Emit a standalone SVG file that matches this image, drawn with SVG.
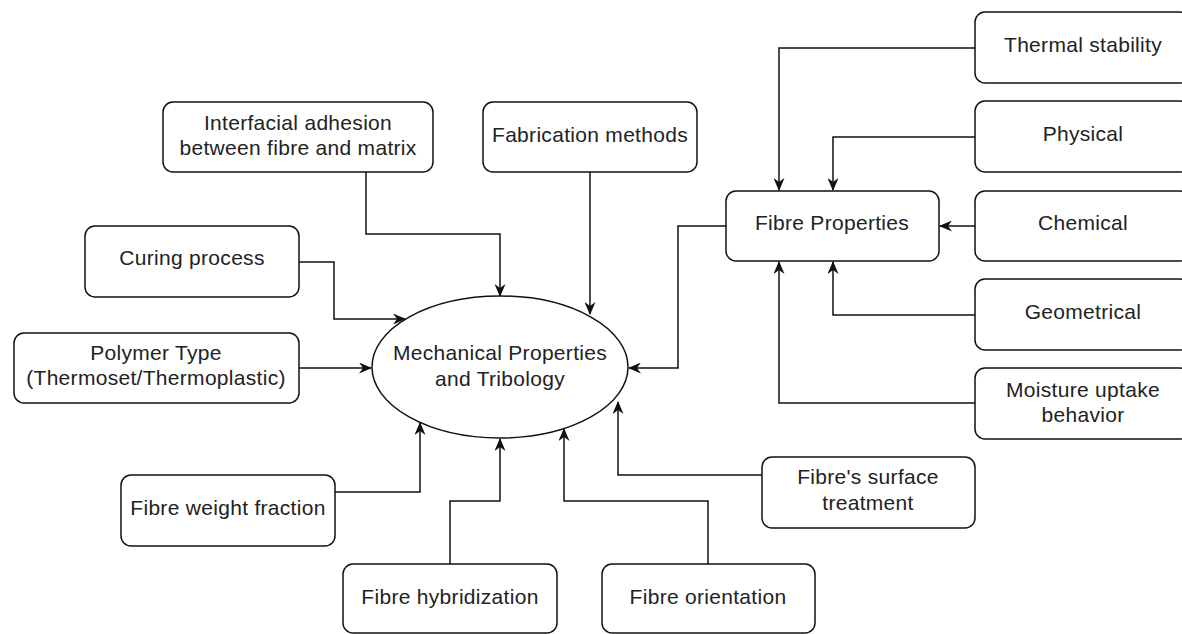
<svg xmlns="http://www.w3.org/2000/svg" width="1182" height="634" viewBox="0 0 1182 634">
<style>
.box{fill:#fff;stroke:#111;stroke-width:1.5}
.t{font-family:"Liberation Sans",Arial,sans-serif;font-size:21px;fill:#222;text-anchor:middle;letter-spacing:0.3px}
.c{fill:none;stroke:#111;stroke-width:1.5}
</style>
<defs>
<marker id="a" viewBox="0 0 13 11" refX="12" refY="5.5" markerWidth="13" markerHeight="11" markerUnits="userSpaceOnUse" orient="auto">
<path d="M0,0 L13,5.5 L0,11 L4,5.5 z" fill="#111"/>
</marker>
</defs>
<rect width="1182" height="634" fill="#fff"/>
<g id="connectors">
<path class="c" d="M366,172 V234 H500 V296" marker-end="url(#a)"/>
<path class="c" d="M590,172 V314" marker-end="url(#a)"/>
<path class="c" d="M299,262 H334 V319 H405" marker-end="url(#a)"/>
<path class="c" d="M299,368 H371" marker-end="url(#a)"/>
<path class="c" d="M726,226 H678 V368 H629" marker-end="url(#a)"/>
<path class="c" d="M335,492 H420 V423" marker-end="url(#a)"/>
<path class="c" d="M450,564 V501 H500 V439" marker-end="url(#a)"/>
<path class="c" d="M708,564 V501 H564 V429" marker-end="url(#a)"/>
<path class="c" d="M762,475 H618 V402" marker-end="url(#a)"/>
<path class="c" d="M975,48 H779 V190" marker-end="url(#a)"/>
<path class="c" d="M975,137 H833 V190" marker-end="url(#a)"/>
<path class="c" d="M975,226 H940" marker-end="url(#a)"/>
<path class="c" d="M975,315 H833 V262" marker-end="url(#a)"/>
<path class="c" d="M975,403 H779 V262" marker-end="url(#a)"/>
</g>
<g id="center">
<ellipse class="box" cx="500" cy="367" rx="128" ry="71"/>
<text class="t" x="500" y="360">Mechanical Properties</text>
<text class="t" x="500" y="386">and Tribology</text>
</g>
<g id="interfacial">
<rect class="box" x="163" y="102" width="270" height="70" rx="10"/>
<text class="t" x="298" y="130">Interfacial adhesion</text>
<text class="t" x="298" y="155">between fibre and matrix</text>
</g>
<g id="fabrication">
<rect class="box" x="483" y="102" width="214" height="70" rx="10"/>
<text class="t" x="590" y="142">Fabrication methods</text>
</g>
<g id="curing">
<rect class="box" x="85" y="226" width="214" height="71" rx="10"/>
<text class="t" x="192" y="265">Curing process</text>
</g>
<g id="polymer">
<rect class="box" x="14" y="333" width="285" height="70" rx="10"/>
<text class="t" x="156" y="360">Polymer Type</text>
<text class="t" x="156" y="385">(Thermoset/Thermoplastic)</text>
</g>
<g id="weight">
<rect class="box" x="121" y="475" width="214" height="71" rx="10"/>
<text class="t" x="228" y="515">Fibre weight fraction</text>
</g>
<g id="hybridization">
<rect class="box" x="343" y="564" width="214" height="69" rx="10"/>
<text class="t" x="450" y="604">Fibre hybridization</text>
</g>
<g id="orientation">
<rect class="box" x="602" y="564" width="213" height="69" rx="10"/>
<text class="t" x="708" y="604">Fibre orientation</text>
</g>
<g id="surface">
<rect class="box" x="762" y="457" width="213" height="71" rx="10"/>
<text class="t" x="868" y="484">Fibre's surface</text>
<text class="t" x="868" y="510">treatment</text>
</g>
<g id="fibreprops">
<rect class="box" x="726" y="191" width="213" height="70" rx="10"/>
<text class="t" x="832" y="230">Fibre Properties</text>
</g>
<g id="thermal">
<rect class="box" x="975" y="12" width="215" height="71" rx="10"/>
<text class="t" x="1083" y="52">Thermal stability</text>
</g>
<g id="physical">
<rect class="box" x="975" y="101" width="215" height="71" rx="10"/>
<text class="t" x="1083" y="141">Physical</text>
</g>
<g id="chemical">
<rect class="box" x="975" y="191" width="215" height="70" rx="10"/>
<text class="t" x="1083" y="230">Chemical</text>
</g>
<g id="geometrical">
<rect class="box" x="975" y="279" width="215" height="71" rx="10"/>
<text class="t" x="1083" y="319">Geometrical</text>
</g>
<g id="moisture">
<rect class="box" x="975" y="368" width="215" height="71" rx="10"/>
<text class="t" x="1083" y="397">Moisture uptake</text>
<text class="t" x="1083" y="422">behavior</text>
</g>
</svg>
